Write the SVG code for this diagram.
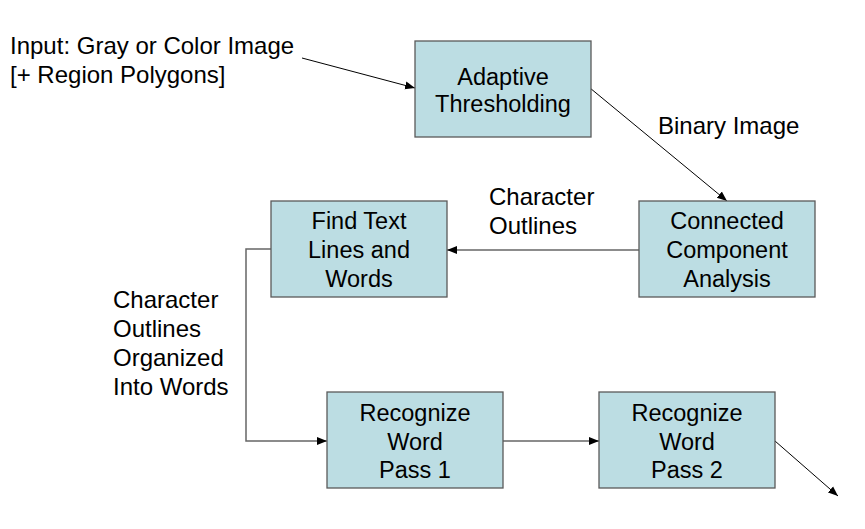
<svg xmlns="http://www.w3.org/2000/svg" width="865" height="529" viewBox="0 0 865 529">
<defs>
<style>
.box{fill:#bcdde3;stroke:#5a5a5a;stroke-width:1.3}
text{font-family:"Liberation Sans",Arial,sans-serif;font-size:23.5px;fill:#000}
.lbl{font-size:24px}
.c{text-anchor:middle}
.thin{stroke:#000;stroke-width:1;fill:none}
.gray{stroke:#666;stroke-width:1.5;fill:none}
</style>
<marker id="ah" viewBox="0 0 10 10" refX="10" refY="5" markerWidth="10" markerHeight="10" markerUnits="userSpaceOnUse" orient="auto">
<path d="M0,1 L10,5 L0,9 Z" fill="#000"/>
</marker>
</defs>
<rect width="865" height="529" fill="#fff"/>
<g id="connectors">
<line class="thin" x1="302" y1="58" x2="415" y2="88" marker-end="url(#ah)"/>
<line class="thin" x1="590" y1="88" x2="727" y2="201" marker-end="url(#ah)"/>
<line class="gray" x1="639" y1="250" x2="447" y2="250" marker-end="url(#ah)"/>
<polyline class="gray" points="271,249 246,249 246,441 327,441" marker-end="url(#ah)"/>
<line class="gray" x1="503" y1="441" x2="599" y2="441" marker-end="url(#ah)"/>
<line class="thin" x1="775" y1="441" x2="838" y2="496" marker-end="url(#ah)"/>
</g>
<g id="adaptive">
<rect class="box" x="415" y="41" width="176" height="96"/>
<text class="c" x="503" y="85">Adaptive</text>
<text class="c" x="503" y="112">Thresholding</text>
</g>
<g id="connected">
<rect class="box" x="639" y="201" width="176" height="96"/>
<text class="c" x="727" y="229">Connected</text>
<text class="c" x="727" y="258">Component</text>
<text class="c" x="727" y="287">Analysis</text>
</g>
<g id="findtext">
<rect class="box" x="271" y="201" width="176" height="96"/>
<text class="c" x="359" y="229">Find Text</text>
<text class="c" x="359" y="258">Lines and</text>
<text class="c" x="359" y="287">Words</text>
</g>
<g id="pass1">
<rect class="box" x="327" y="392" width="176" height="96"/>
<text class="c" x="415" y="421">Recognize</text>
<text class="c" x="415" y="450">Word</text>
<text class="c" x="415" y="478">Pass 1</text>
</g>
<g id="pass2">
<rect class="box" x="599" y="392" width="176" height="96"/>
<text class="c" x="687" y="421">Recognize</text>
<text class="c" x="687" y="450">Word</text>
<text class="c" x="687" y="478">Pass 2</text>
</g>
<g id="labels">
<text class="lbl" x="10" y="54">Input: Gray or Color Image</text>
<text class="lbl" x="10" y="83">[+ Region Polygons]</text>
<text class="lbl" x="658" y="134">Binary Image</text>
<text class="lbl" x="489" y="205">Character</text>
<text class="lbl" x="489" y="234">Outlines</text>
<text class="lbl" x="113" y="308">Character</text>
<text class="lbl" x="113" y="337">Outlines</text>
<text class="lbl" x="113" y="366">Organized</text>
<text class="lbl" x="113" y="395">Into Words</text>
</g>
</svg>
